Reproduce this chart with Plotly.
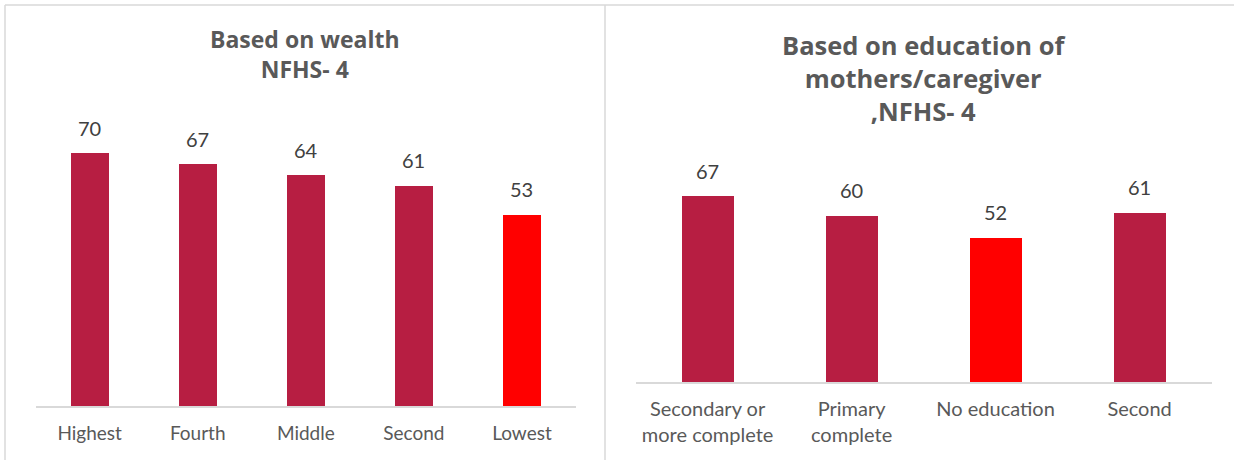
import plotly.graph_objects as go

wealth_cats = ["Highest", "Fourth", "Middle", "Second", "Lowest"]
wealth_vals = [70, 67, 64, 61, 53]
wealth_colors = ["#B71E42", "#B71E42", "#B71E42", "#B71E42", "#FF0000"]

edu_cats = ["Secondary or<br>more complete", "Primary<br>complete", "No education", "Second"]
edu_vals = [67, 60, 52, 61]
edu_colors = ["#B71E42", "#B71E42", "#FF0000", "#B71E42"]

W, H = 1234, 460
FONT = "Lato"
TFONT = "Open Sans"
GRAY = "#595959"

fig = go.Figure()
fig.add_trace(go.Bar(x=wealth_cats, y=wealth_vals, marker=dict(color=wealth_colors, line=dict(width=0)),
                     width=0.35, xaxis="x", yaxis="y", showlegend=False, hoverinfo="x+y"))
fig.add_trace(go.Bar(x=edu_cats, y=edu_vals, marker=dict(color=edu_colors, line=dict(width=0)),
                     width=0.355, xaxis="x2", yaxis="y2", showlegend=False, hoverinfo="x+y"))

annotations = []
for c, v in zip(wealth_cats, wealth_vals):
    annotations.append(dict(x=c, y=v, xref="x", yref="y", text=str(v), showarrow=False,
                            yanchor="bottom", yshift=11, font=dict(family=FONT, size=20, color="#404040")))
for c, v in zip(edu_cats, edu_vals):
    annotations.append(dict(x=c, y=v, xref="x2", yref="y2", text=str(v), showarrow=False,
                            yanchor="bottom", yshift=11, font=dict(family=FONT, size=20, color="#404040")))

annotations.append(dict(x=305 / W, y=1 - 54 / H, xref="paper", yref="paper", showarrow=False,
                        xanchor="center", yanchor="middle",
                        text="<b>Based on wealth<br>NFHS- 4</b>", align="center",
                        font=dict(family=TFONT, size=23, color=GRAY)))
annotations.append(dict(x=924 / W, y=1 - 78 / H, xref="paper", yref="paper", showarrow=False,
                        xanchor="center", yanchor="middle",
                        text="<b>Based on education of<br>mothers/caregiver<br>,NFHS- 4</b>", align="center",
                        font=dict(family=TFONT, size=25.5, color=GRAY)))

# plot geometry
l_base, l_scale = 406, 3.617
r_base, r_scale = 382, 2.78
ymax = 80

shapes = [
    dict(type="line", xref="paper", yref="paper", x0=5 / W, x1=1, y0=1 - 5 / H, y1=1 - 5 / H,
         line=dict(color="#D9D9D9", width=1.5)),
    dict(type="line", xref="paper", yref="paper", x0=5 / W, x1=5 / W, y0=0, y1=1 - 5 / H,
         line=dict(color="#D9D9D9", width=1.5)),
    dict(type="line", xref="paper", yref="paper", x0=605 / W, x1=605 / W, y0=0, y1=1 - 5 / H,
         line=dict(color="#D9D9D9", width=1.5)),
]

fig.update_layout(
    width=W, height=H, margin=dict(l=0, r=0, t=0, b=0),
    paper_bgcolor="white", plot_bgcolor="white", bargap=0,
    font=dict(family=FONT, color=GRAY),
    xaxis=dict(domain=[35.6 / W, 576 / W], anchor="y", showgrid=False, showline=True,
               linecolor="#D9D9D9", linewidth=2, ticks="", ticklabelstandoff=9,
               tickfont=dict(family=FONT, size=19, color=GRAY), fixedrange=True),
    yaxis=dict(domain=[(H - l_base) / H, (H - l_base + ymax * l_scale) / H], range=[0, ymax],
               visible=False, showgrid=False, fixedrange=True),
    xaxis2=dict(domain=[635.6 / W, 1211.6 / W], anchor="y2", showgrid=False, showline=True,
                linecolor="#D9D9D9", linewidth=2, ticks="", ticklabelstandoff=8,
                tickfont=dict(family=FONT, size=20, color=GRAY), fixedrange=True),
    yaxis2=dict(domain=[(H - r_base) / H, (H - r_base + ymax * r_scale) / H], range=[0, ymax],
                visible=False, showgrid=False, fixedrange=True),
    annotations=annotations, shapes=shapes,
)

fig.write_html("out.html", config={"displayModeBar": False})
